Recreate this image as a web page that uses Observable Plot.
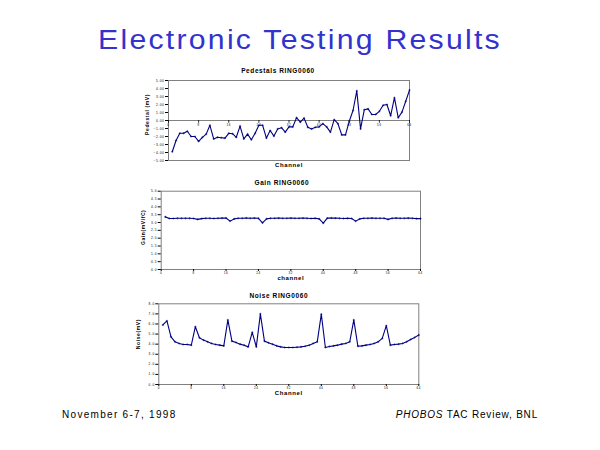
<!DOCTYPE html>
<html>
<head>
<meta charset="utf-8">
<script src="https://cdn.jsdelivr.net/npm/d3@7"></script>
<script src="https://cdn.jsdelivr.net/npm/@observablehq/plot@0.6"></script>
<style>
  html, body { margin: 0; padding: 0; background: #fff; }
  #page { position: relative; width: 600px; height: 450px; overflow: hidden; font-family: "Liberation Sans", Arial, sans-serif; }
  #title { position: absolute; left: 0; width: 600px; top: 27px; text-align: center; font-size: 27px; line-height: 27px; color: #3333cc; letter-spacing: 2px; transform: scaleX(1.12); transform-origin: 300px 0; white-space: nowrap; }
  .foot { position: absolute; top: 410px; font-size: 10px; line-height: 10px; color: #000; white-space: nowrap; }
  #footL { left: 62px; letter-spacing: 1.3px; }
  #footR { right: 62px; letter-spacing: 0.8px; }
  .chart { position: absolute; left: 0; }
</style>
</head>
<body>
<div id="page">
  <div id="title">Electronic Testing Results</div>
  <div class="foot" id="footL">November 6-7, 1998</div>
  <div class="foot" id="footR"><i>PHOBOS</i> TAC Review, BNL</div>
  <div class="chart" id="c1" style="top:58px"></div>
  <div class="chart" id="c2" style="top:172px"></div>
  <div class="chart" id="c3" style="top:285px"></div>
</div>
<script>
const channels = [1,2,3,4,5,6,7,8,9,10,11,12,13,14,15,16,17,18,19,20,21,22,23,24,25,26,27,28,29,30,31,32,
  33,34,35,36,37,38,39,40,41,42,43,44,45,46,47,48,49,50,51,52,53,54,55,56,57,58,59,60,61,62,63,64];

const pedestal = [-3.9,-2.5,-1.6,-1.6,-1.35,-2.0,-2.0,-2.6,-2.1,-1.7,
  -0.6,-2.3,-2.1,-2.15,-2.2,-1.6,-1.65,-2.1,-0.7,-2.3,
  -1.7,-2.4,-1.6,-0.6,-0.6,-2.2,-1.25,-1.95,-1.05,-0.9,
  -1.45,-0.8,-0.8,0.35,-0.2,0.3,-0.85,-1.05,-0.85,-0.8,
  -0.4,-0.8,-1.45,0.1,-0.4,-1.8,-1.8,-0.1,1.25,3.7,
  -1.05,1.35,1.45,0.75,0.75,1.15,1.9,2.0,0.6,2.85,
  0.35,1.05,2.4,3.8];

const gain = [3.36,3.26,3.26,3.27,3.27,3.27,3.27,3.26,3.2,3.25,
  3.27,3.27,3.26,3.27,3.28,3.29,3.09,3.23,3.27,3.27,
  3.29,3.27,3.28,3.27,2.98,3.23,3.27,3.27,3.28,3.27,
  3.27,3.28,3.27,3.27,3.28,3.27,3.26,3.27,3.23,2.96,
  3.28,3.29,3.28,3.27,3.26,3.27,3.26,3.09,3.23,3.27,
  3.27,3.28,3.27,3.27,3.27,3.2,3.27,3.28,3.27,3.27,
  3.28,3.27,3.25,3.25];

const noise = [5.9,6.3,4.73,4.23,4.07,3.97,3.97,3.9,5.73,4.63,
  4.4,4.23,4.07,3.97,3.9,3.83,6.4,4.3,4.17,4.0,
  3.9,3.73,5.17,3.73,7.0,4.3,4.13,4.0,3.83,3.73,
  3.67,3.67,3.67,3.7,3.73,3.8,3.9,4.07,4.23,6.97,
  3.67,3.77,3.83,3.9,4.0,4.07,4.23,6.4,3.8,3.83,
  3.9,3.97,4.07,4.23,4.57,5.83,3.9,3.97,4.0,4.07,
  4.23,4.47,4.67,4.9];

const xTicks = [0,8,16,24,32,40,48,56,64];
const pedTicks = [-5,-4,-3,-2,-1,0,1,2,3,4,5];
const gainTicks = [0,0.5,1,1.5,2,2.5,3,3.5,4,4.5,5];
const noiseTicks = [0,1,2,3,4,5,6,7,8];

const titles = ["Pedestals RING0060", "Gain RING0060", "Noise RING0060"];
const yLabels = ["Pedestal (mV)", "Gain(mV/fC)", "Noise(mV)"];
const xLabels = ["Channel", "channel", "Channel"];

const LINE = "#000080";
const GREY = "#808080";

function table(vals) { return channels.map((c, i) => ({c, v: vals[i]})); }

function makeChart(opts) {
  const data = table(opts.values);
  const marks = [
    Plot.frame({stroke: GREY, strokeWidth: 1})
  ];
  if (opts.zeroAxis) {
    marks.push(Plot.ruleY([0], {stroke: GREY, strokeWidth: 1}));
    marks.push(Plot.ruleX(xTicks, {x: d => d, y1: 0, y2: -0.35, stroke: "#000", strokeWidth: 0.8}));
    marks.push(Plot.text(xTicks, {x: d => d, y: 0, dy: 5, text: d => String(d), fontSize: 3, fill: "#000"}));
  } else {
    marks.push(Plot.axisX(xTicks, {anchor: "bottom", tickSize: 2, tickPadding: 0, fontSize: 3, label: null, stroke: "#000"}));
  }
  marks.push(Plot.axisY(opts.yTicks, {anchor: "left", tickSize: 3, tickPadding: 1, fontSize: 3.2, label: null, tickFormat: opts.tickFormat}));
  marks.push(Plot.line(data, {x: "c", y: "v", stroke: LINE, strokeWidth: 1.1}));
  marks.push(Plot.dot(data, {x: "c", y: "v", symbol: "plus", r: 0.8, stroke: LINE, strokeWidth: 0.5}));
  marks.push(Plot.text([opts.title], {frameAnchor: "top", dx: opts.titleDx, dy: opts.titleDy, text: d => d, fontSize: 6.5, fontWeight: "bold", fill: "#000"}));
  marks.push(Plot.text([opts.xLabel], {frameAnchor: "bottom", dy: opts.xLabelDy, text: d => d, fontSize: 6, fontWeight: "bold", fill: "#000"}));
  marks.push(Plot.text([opts.yLabel], {frameAnchor: "left", textAnchor: "middle", dx: opts.yLabelDx, dy: opts.yLabelDy, rotate: -90, text: d => d, fontSize: 5, fontWeight: "bold", fill: "#000"}));

  return Plot.plot({
    width: 600,
    height: opts.height,
    marginLeft: opts.ml, marginRight: opts.mr, marginTop: opts.mt, marginBottom: opts.mb,
    x: {domain: [0, 64], axis: null},
    y: {domain: opts.yDomain, axis: null},
    style: {fontFamily: "'Liberation Sans', Arial, sans-serif", background: "transparent", overflow: "visible", letterSpacing: "0.6px"},
    marks
  });
}

document.getElementById("c1").append(makeChart({
  values: pedestal, yDomain: [-5, 5], yTicks: pedTicks, tickFormat: d3.format(".2f"), zeroAxis: true,
  height: 114, ml: 168, mr: 191, mt: 22, mb: 12,
  title: titles[0], titleDx: -11, titleDy: -12,
  xLabel: xLabels[0], xLabelDy: 6,
  yLabel: yLabels[0], yLabelDx: -21, yLabelDy: -6
}));

document.getElementById("c2").append(makeChart({
  values: gain, yDomain: [0, 5], yTicks: gainTicks, tickFormat: d3.format(".1f"), zeroAxis: false,
  height: 110, ml: 160.7, mr: 180, mt: 18.7, mb: 13,
  title: titles[1], titleDx: -9, titleDy: -10.5,
  xLabel: xLabels[1], xLabelDy: 10.5,
  yLabel: yLabels[1], yLabelDx: -17.5, yLabelDy: -3
}));

document.getElementById("c3").append(makeChart({
  values: noise, yDomain: [0, 8], yTicks: noiseTicks, tickFormat: d3.format(".1f"), zeroAxis: false,
  height: 112, ml: 158.3, mr: 181.7, mt: 18.3, mb: 13,
  title: titles[2], titleDx: -10, titleDy: -10,
  xLabel: xLabels[2], xLabelDy: 10.5,
  yLabel: yLabels[2], yLabelDx: -20, yLabelDy: -10
}));
</script>
</body>
</html>
